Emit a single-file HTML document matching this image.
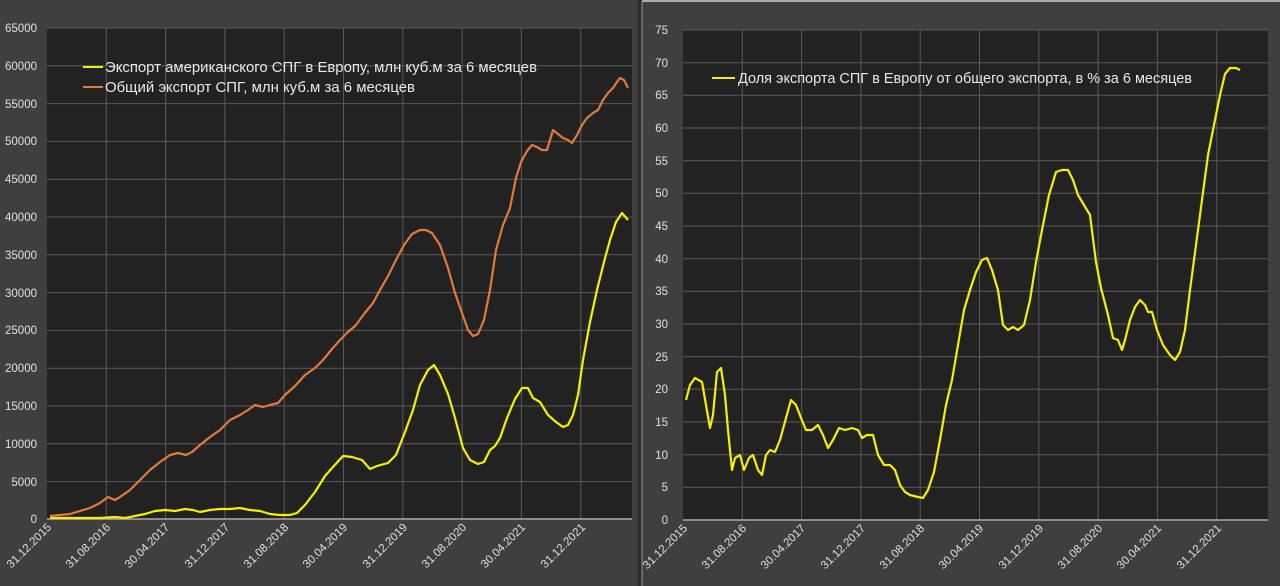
<!DOCTYPE html>
<html><head><meta charset="utf-8"><style>
html,body{margin:0;padding:0;background:#3f3f3f;}
svg{display:block;font-family:"Liberation Sans","DejaVu Sans",sans-serif;}
</style></head><body>
<svg width="1280" height="586" viewBox="0 0 1280 586" xmlns="http://www.w3.org/2000/svg">
<rect x="0" y="0" width="1280" height="586" fill="#3f3f3f"/>
<rect x="638" y="0" width="4" height="586" fill="#2a2a2a"/>
<line x1="642" y1="1" x2="1280" y2="1" stroke="#cfcfcf" stroke-width="1.5"/>
<line x1="642" y1="1" x2="642" y2="586" stroke="#9a9a9a" stroke-width="1"/>
<rect x="47" y="28" width="585" height="491" fill="#222"/>
<g stroke="#5a5a5a" stroke-width="1">
<line x1="47" x2="632" y1="28" y2="28"/><line x1="47" x2="632" y1="65.8" y2="65.8"/><line x1="47" x2="632" y1="103.6" y2="103.6"/><line x1="47" x2="632" y1="141.4" y2="141.4"/><line x1="47" x2="632" y1="179.2" y2="179.2"/><line x1="47" x2="632" y1="217" y2="217"/><line x1="47" x2="632" y1="254.8" y2="254.8"/><line x1="47" x2="632" y1="292.6" y2="292.6"/><line x1="47" x2="632" y1="330.4" y2="330.4"/><line x1="47" x2="632" y1="368.2" y2="368.2"/><line x1="47" x2="632" y1="406" y2="406"/><line x1="47" x2="632" y1="443.8" y2="443.8"/><line x1="47" x2="632" y1="481.6" y2="481.6"/>
<line x1="106.3" x2="106.3" y1="28" y2="519"/><line x1="165.6" x2="165.6" y1="28" y2="519"/><line x1="224.9" x2="224.9" y1="28" y2="519"/><line x1="284.2" x2="284.2" y1="28" y2="519"/><line x1="343.5" x2="343.5" y1="28" y2="519"/><line x1="402.8" x2="402.8" y1="28" y2="519"/><line x1="462.1" x2="462.1" y1="28" y2="519"/><line x1="521.4" x2="521.4" y1="28" y2="519"/><line x1="580.7" x2="580.7" y1="28" y2="519"/>
</g>
<line x1="47" x2="632" y1="519" y2="519" stroke="#aaa" stroke-width="1.5"/>
<g fill="#e0e0e0" font-size="11.5" text-anchor="end">
<text x="37" y="32">65000</text><text x="37" y="70">60000</text><text x="37" y="108">55000</text><text x="37" y="145">50000</text><text x="37" y="183">45000</text><text x="37" y="221">40000</text><text x="37" y="259">35000</text><text x="37" y="297">30000</text><text x="37" y="334">25000</text><text x="37" y="372">20000</text><text x="37" y="410">15000</text><text x="37" y="448">10000</text><text x="37" y="486">5000</text><text x="37" y="523">0</text>
</g>
<g fill="#e0e0e0" font-size="11.5" text-anchor="end">
<text transform="translate(52,528) rotate(-45)">31.12.2015</text>
<text transform="translate(111,528) rotate(-45)">31.08.2016</text>
<text transform="translate(170,528) rotate(-45)">30.04.2017</text>
<text transform="translate(230,528) rotate(-45)">31.12.2017</text>
<text transform="translate(289,528) rotate(-45)">31.08.2018</text>
<text transform="translate(348,528) rotate(-45)">30.04.2019</text>
<text transform="translate(408,528) rotate(-45)">31.12.2019</text>
<text transform="translate(467,528) rotate(-45)">31.08.2020</text>
<text transform="translate(526,528) rotate(-45)">30.04.2021</text>
<text transform="translate(586,528) rotate(-45)">31.12.2021</text>
</g>
<polyline fill="none" stroke="#e07b39" stroke-width="2.2" stroke-linejoin="round" points="50,516 70,514 90,508 100,503 108,497 115,500 120,497 130,490 140,480 150,470 160,462 170,455 178,453 186,455 192,452 200,445 210,437 220,430 230,420 240,415 248,410 255,405 263,407 270,405 278,403 285,395 295,386 305,375 315,368 323,360 332,349 340,340 348,332 356,325 364,314 373,303 380,290 388,276 396,260 404,245 412,234 420,230 426,230 432,233 440,245 448,268 455,293 462,313 468,330 473,336 478,334 484,320 490,290 496,250 503,225 510,208 516,178 521,162 527,151 532,145 537,147 542,150 547,150 550,140 553,130 558,134 563,138 568,140 572,143 577,135 582,125 587,118 593,113 598,110 603,100 608,93 613,88 617,82 620,78 624,80 628,88"/>
<polyline fill="none" stroke="#f5f000" stroke-width="2.2" stroke-linejoin="round" points="50,518 100,518 115,517 125,518 135,516 145,514 155,511 165,510 175,511 185,509 193,510 200,512 210,510 220,509 230,509 240,508 250,510 260,511 270,514 280,515 290,515 297,513 305,505 315,492 325,476 333,467 343,456 352,457 362,460 370,469 377,466 388,463 396,455 405,432 413,410 420,385 428,370 434,365 440,375 448,394 455,418 463,448 470,460 478,464 484,462 490,450 495,446 500,438 507,418 515,399 522,388 528,388 533,398 540,402 548,415 556,422 563,427 568,425 573,415 578,395 583,360 590,322 597,290 604,262 610,240 616,222 622,213 628,220"/>
<line x1="83" x2="103" y1="67" y2="67" stroke="#f5f000" stroke-width="2"/>
<line x1="83" x2="103" y1="87" y2="87" stroke="#e07b39" stroke-width="2"/>
<g fill="#e8e8e8" font-size="14.5">
<text x="105" y="72" textLength="432" lengthAdjust="spacingAndGlyphs">Экспорт американского СПГ в Европу, млн куб.м за 6 месяцев</text>
<text x="105" y="92" textLength="310" lengthAdjust="spacingAndGlyphs">Общий экспорт СПГ, млн куб.м за 6 месяцев</text>
</g>
<rect x="683" y="30" width="585" height="490" fill="#222"/>
<g stroke="#5a5a5a" stroke-width="1">
<line x1="683" x2="1268" y1="30" y2="30"/><line x1="683" x2="1268" y1="62.7" y2="62.7"/><line x1="683" x2="1268" y1="95.3" y2="95.3"/><line x1="683" x2="1268" y1="128" y2="128"/><line x1="683" x2="1268" y1="160.7" y2="160.7"/><line x1="683" x2="1268" y1="193.3" y2="193.3"/><line x1="683" x2="1268" y1="226" y2="226"/><line x1="683" x2="1268" y1="258.7" y2="258.7"/><line x1="683" x2="1268" y1="291.3" y2="291.3"/><line x1="683" x2="1268" y1="324" y2="324"/><line x1="683" x2="1268" y1="356.7" y2="356.7"/><line x1="683" x2="1268" y1="389.3" y2="389.3"/><line x1="683" x2="1268" y1="422" y2="422"/><line x1="683" x2="1268" y1="454.7" y2="454.7"/><line x1="683" x2="1268" y1="487.3" y2="487.3"/>
<line x1="742.3" x2="742.3" y1="30" y2="520"/><line x1="801.6" x2="801.6" y1="30" y2="520"/><line x1="860.9" x2="860.9" y1="30" y2="520"/><line x1="920.2" x2="920.2" y1="30" y2="520"/><line x1="979.5" x2="979.5" y1="30" y2="520"/><line x1="1038.8" x2="1038.8" y1="30" y2="520"/><line x1="1098.1" x2="1098.1" y1="30" y2="520"/><line x1="1157.4" x2="1157.4" y1="30" y2="520"/><line x1="1216.7" x2="1216.7" y1="30" y2="520"/>
</g>
<line x1="683" x2="1268" y1="520" y2="520" stroke="#aaa" stroke-width="1.5"/>
<g fill="#e0e0e0" font-size="11.5" text-anchor="end">
<text x="668" y="34">75</text><text x="668" y="67">70</text><text x="668" y="99">65</text><text x="668" y="132">60</text><text x="668" y="165">55</text><text x="668" y="197">50</text><text x="668" y="230">45</text><text x="668" y="263">40</text><text x="668" y="295">35</text><text x="668" y="328">30</text><text x="668" y="361">25</text><text x="668" y="393">20</text><text x="668" y="426">15</text><text x="668" y="459">10</text><text x="668" y="491">5</text><text x="668" y="524">0</text>
</g>
<g fill="#e0e0e0" font-size="11.5" text-anchor="end">
<text transform="translate(688,529) rotate(-45)">31.12.2015</text>
<text transform="translate(747,529) rotate(-45)">31.08.2016</text>
<text transform="translate(806,529) rotate(-45)">30.04.2017</text>
<text transform="translate(866,529) rotate(-45)">31.12.2017</text>
<text transform="translate(925,529) rotate(-45)">31.08.2018</text>
<text transform="translate(984,529) rotate(-45)">30.04.2019</text>
<text transform="translate(1044,529) rotate(-45)">31.12.2019</text>
<text transform="translate(1103,529) rotate(-45)">31.08.2020</text>
<text transform="translate(1162,529) rotate(-45)">30.04.2021</text>
<text transform="translate(1222,529) rotate(-45)">31.12.2021</text>
</g>
<polyline fill="none" stroke="#f5f000" stroke-width="2.2" stroke-linejoin="round" points="686,400 690,385 695,378 702,382 706,405 710,428 713,415 717,372 721,368 725,395 728,430 732,470 735,458 740,455 744,470 749,458 753,455 758,470 762,475 766,455 770,450 775,452 780,440 786,418 791,400 796,405 801,418 806,430 812,430 818,425 823,435 828,448 833,440 839,428 845,430 852,428 858,430 862,438 867,435 873,435 878,455 884,465 890,465 895,470 900,485 905,492 910,495 918,497 923,498 928,490 934,472 940,440 946,405 952,380 958,345 964,310 970,290 976,272 982,260 987,258 992,270 998,290 1003,325 1008,330 1013,327 1018,330 1024,325 1030,300 1036,262 1042,230 1049,195 1056,172 1062,170 1068,170 1073,180 1078,195 1084,205 1090,215 1096,262 1101,288 1108,315 1113,338 1118,340 1122,350 1125,340 1130,320 1135,307 1140,300 1145,305 1148,312 1152,312 1157,330 1163,345 1170,355 1175,360 1180,352 1185,330 1190,290 1196,245 1202,200 1208,155 1214,125 1220,95 1225,74 1230,68 1236,68 1240,70"/>
<line x1="712" x2="735" y1="78" y2="78" stroke="#f5f000" stroke-width="2"/>
<text x="738" y="83" fill="#e8e8e8" font-size="14.5" textLength="454" lengthAdjust="spacingAndGlyphs">Доля экспорта СПГ в Европу от общего экспорта, в % за 6 месяцев</text>
</svg>
</body></html>
